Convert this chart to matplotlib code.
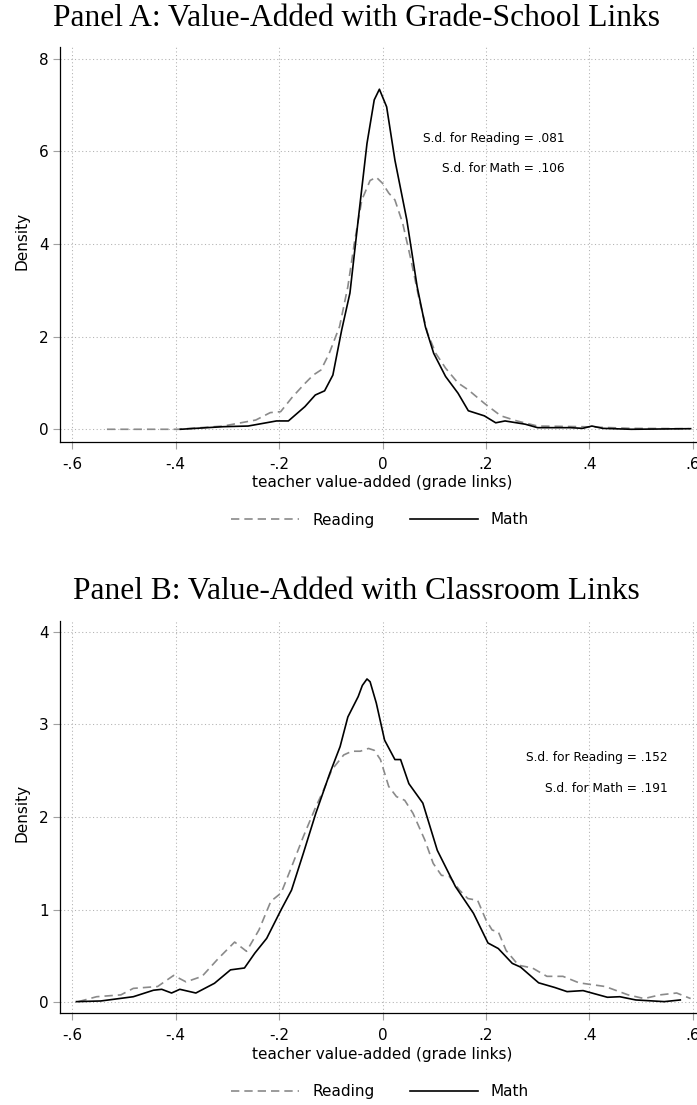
import matplotlib
matplotlib.use("Agg")
import matplotlib.pyplot as plt
from matplotlib.lines import Line2D

plt.rcParams['font.family'] = ['DejaVu Sans']
plt.rcParams['lines.scale_dashes'] = False

# ---- Panel A: grade-school links ----
a_math_x = [-0.391, -0.308, -0.26, -0.205, -0.182, -0.15, -0.13, -0.112, -0.096,
            -0.079, -0.063, -0.047, -0.03, -0.016, -0.006, 0.008, 0.024, 0.047,
            0.067, 0.083, 0.099, 0.122, 0.146, 0.166, 0.197, 0.219, 0.237, 0.276,
            0.30, 0.363, 0.387, 0.405, 0.426, 0.481, 0.596]
a_math_y = [0.0, 0.056, 0.07, 0.18, 0.18, 0.49, 0.74, 0.83, 1.17,
            2.14, 2.94, 4.52, 6.17, 7.11, 7.34, 6.96, 5.81, 4.52,
            3.08, 2.21, 1.64, 1.14, 0.78, 0.40, 0.29, 0.14, 0.18, 0.11,
            0.035, 0.035, 0.02, 0.07, 0.02, 0.0, 0.013]

a_read_x = [-0.533, -0.395, -0.308, -0.245, -0.217, -0.197, -0.174, -0.15, -0.134,
            -0.119, -0.103, -0.083, -0.067, -0.054, -0.04, -0.024, -0.012, 0.0,
            0.012, 0.024, 0.039, 0.055, 0.071, 0.087, 0.103, 0.122, 0.146, 0.166,
            0.197, 0.229, 0.26, 0.30, 0.387, 0.481, 0.592]
a_read_y = [0.0, 0.0, 0.07, 0.20, 0.36, 0.38, 0.70, 0.99, 1.17,
            1.28, 1.64, 2.22, 3.08, 4.05, 4.95, 5.37, 5.44, 5.31,
            5.10, 4.95, 4.45, 3.66, 2.80, 2.08, 1.64, 1.32, 1.00, 0.85,
            0.56, 0.29, 0.18, 0.07, 0.056, 0.02, 0.013]

# ---- Panel B: classroom links ----
b_math_x = [-0.592, -0.545, -0.482, -0.443, -0.427, -0.408, -0.392, -0.361, -0.325,
            -0.294, -0.267, -0.247, -0.224, -0.196, -0.176, -0.153, -0.129, -0.102,
            -0.082, -0.067, -0.047, -0.039, -0.03, -0.024, -0.012, 0.004, 0.024,
            0.035, 0.051, 0.078, 0.106, 0.141, 0.176, 0.204, 0.224, 0.251, 0.267,
            0.302, 0.333, 0.357, 0.388, 0.435, 0.459, 0.49, 0.545, 0.576]
b_math_y = [0.007, 0.014, 0.06, 0.13, 0.14, 0.10, 0.14, 0.10, 0.205,
            0.35, 0.37, 0.53, 0.69, 1.0, 1.21, 1.61, 2.04, 2.47,
            2.76, 3.08, 3.30, 3.42, 3.49, 3.46, 3.23, 2.83, 2.62,
            2.62, 2.36, 2.15, 1.64, 1.25, 0.96, 0.64, 0.58, 0.42, 0.38,
            0.21, 0.16, 0.115, 0.126, 0.054, 0.06, 0.025, 0.007, 0.025]

b_read_x = [-0.588, -0.553, -0.506, -0.482, -0.435, -0.404, -0.38, -0.349, -0.318,
            -0.286, -0.263, -0.239, -0.216, -0.196, -0.176, -0.153, -0.129, -0.114,
            -0.098, -0.075, -0.059, -0.043, -0.027, -0.016, -0.004, 0.012, 0.027,
            0.043, 0.059, 0.082, 0.098, 0.114, 0.129, 0.149, 0.165, 0.184, 0.2,
            0.212, 0.224, 0.239, 0.263, 0.29, 0.318, 0.349, 0.38, 0.431, 0.475,
            0.506, 0.537, 0.569, 0.596]
b_read_y = [0.007, 0.06, 0.08, 0.15, 0.17, 0.29, 0.22, 0.28, 0.47,
            0.65, 0.55, 0.78, 1.09, 1.18, 1.46, 1.79, 2.11, 2.29,
            2.51, 2.67, 2.71, 2.71, 2.74, 2.72, 2.62, 2.33, 2.22,
            2.18, 2.04, 1.75, 1.50, 1.37, 1.36, 1.21, 1.12, 1.10, 0.89,
            0.78, 0.76, 0.56, 0.40, 0.37, 0.28, 0.28, 0.21, 0.17, 0.08,
            0.04, 0.08, 0.10, 0.04]

x_ticks = [-0.6, -0.4, -0.2, 0.0, 0.2, 0.4, 0.6]
x_tick_labels = ['-.6', '-.4', '-.2', '0', '.2', '.4', '.6']
a_y_ticks = [0, 2, 4, 6, 8]
b_y_ticks = [0, 1, 2, 3, 4]

series_names = ['Reading', 'Math']
a_sd = ['.081', '.106']
b_sd = ['.152', '.191']

titles = ['Panel A: Value-Added with Grade-School Links',
          'Panel B: Value-Added with Classroom Links']
x_title = 'teacher value-added (grade links)'

READ_COLOR = '#8a8a8a'
MATH_COLOR = 'black'
READ_DASH = (6.0, 3.6)
LW = 1.2

fig = plt.figure(figsize=(6.97, 11.05), dpi=100)
W, H = 697.0, 1105.0


def panel(rect, rx, ry, mx, my, yticks, ylim, sd_vals, sd_x, sd_y, legend_y, title, title_y):
    ax = fig.add_axes(rect)
    ax.plot(rx, ry, color=READ_COLOR, lw=LW, dashes=READ_DASH, zorder=3)
    ax.plot(mx, my, color=MATH_COLOR, lw=LW, zorder=4)
    ax.set_xlim(-0.6232, 0.6232)
    ax.set_ylim(*ylim)
    ax.set_xticks(x_ticks)
    ax.set_xticklabels(x_tick_labels)
    ax.set_yticks(yticks)
    ax.set_yticklabels([str(t) for t in yticks])
    ax.grid(True, color='#b4b4b4', linestyle=(0, (0.8, 1.8)), linewidth=0.75, zorder=0)
    ax.set_axisbelow(True)
    for s in ('top', 'right'):
        ax.spines[s].set_visible(False)
    for s in ('left', 'bottom'):
        ax.spines[s].set_linewidth(0.9)
        ax.spines[s].set_color('black')
    ax.tick_params(axis='both', direction='out', length=5.0, width=0.8,
                   color='#a0a0a0', labelsize=11, labelcolor='black')
    ax.tick_params(axis='x', pad=5.8)
    ax.tick_params(axis='y', pad=3.2)

    ax.set_ylabel('Density', fontsize=11)
    ax.yaxis.label.set_va('center')
    ax.yaxis.set_label_coords(-0.06, 0.51)
    ax.set_xlabel(x_title, fontsize=11)
    ax.xaxis.label.set_va('center')
    ax_h_px = rect[3] * H
    ax.xaxis.set_label_coords(0.5, -41.0 / ax_h_px)

    for name, val, yy in zip(series_names, sd_vals, sd_y):
        ax.text(sd_x, yy, f'S.d. for {name} = {val}', ha='right', va='center',
                fontsize=8.7)

    handles = [Line2D([], [], color=READ_COLOR, lw=LW, dashes=READ_DASH),
               Line2D([], [], color=MATH_COLOR, lw=LW)]
    ax.legend(handles, series_names, loc='center',
              bbox_to_anchor=(379.9 / W, legend_y), bbox_transform=fig.transFigure,
              ncol=2, frameon=False, fontsize=11, handlelength=4.45,
              handletextpad=0.83, columnspacing=2.3)

    fig.text(356.5 / W, title_y, title, ha='center', va='baseline',
             family='Liberation Serif', fontsize=22.7)
    return ax


panel([60.3 / W, 1 - 441.7 / H, 644.4 / W, 394.4 / H],
      a_read_x, a_read_y, a_math_x, a_math_y,
      a_y_ticks, (-0.268, 8.245), a_sd, 0.353, [6.28, 5.62],
      1 - 520.0 / H, titles[0], 1 - 26.0 / H)

panel([60.3 / W, 1 - 1013.3 / H, 644.4 / W, 392.6 / H],
      b_read_x, b_read_y, b_math_x, b_math_y,
      b_y_ticks, (-0.119, 4.119), b_sd, 0.551, [2.64, 2.31],
      1 - 1091.6 / H, titles[1], 1 - 598.8 / H)

fig.savefig('out.png', dpi=100)
